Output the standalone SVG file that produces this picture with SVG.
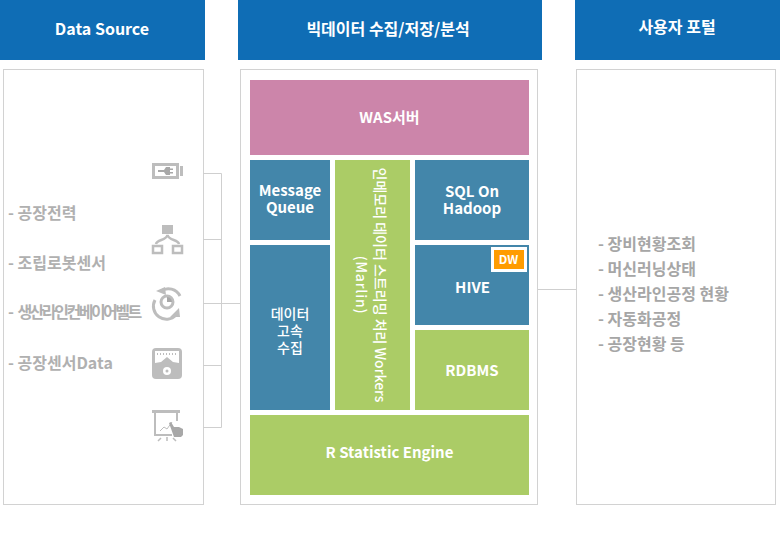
<svg xmlns="http://www.w3.org/2000/svg" width="780" height="533" viewBox="0 0 780 533">
<style>
text{font-family:"Noto Sans CJK KR","Noto Sans",sans-serif;font-weight:700;text-anchor:middle}
.hd{fill:#0f6db5}
.hdt{fill:#fff;font-size:16px}
.panel{fill:#fff;stroke:#d2d2d2;stroke-width:1}
.blue{fill:#4386aa}
.green{fill:#abcc66}
.w{fill:#fff;font-size:15px}
.l{fill:#b0b0b0;font-size:16px;text-anchor:start}
.r{fill:#a6a6a6;font-size:16px;text-anchor:start}
.line{fill:none;stroke:#cfcfcf;stroke-width:1}
.ic{fill:#bdbdbd}
.ics{fill:none;stroke:#bdbdbd}
</style>
<rect width="780" height="533" fill="#fff"/>
<g id="header-source"><rect class="hd" x="0" y="0" width="205" height="60"/><text class="hdt" x="102" y="35">Data Source</text></g>
<g id="header-bigdata"><rect class="hd" x="238" y="0" width="304" height="60"/><text class="hdt" x="388" y="35">빅데이터 수집/저장/분석</text></g>
<g id="header-portal"><rect class="hd" x="575" y="0" width="205" height="60"/><text class="hdt" x="677" y="33">사용자 포털</text></g>
<g id="panel-source"><rect class="panel" x="3.5" y="69.5" width="200" height="435"/>
<text class="l" x="8" y="219">- 공장전력</text>
<text class="l" x="8" y="269">- 조립로봇센서</text>
<text class="l" x="8" y="318">- <tspan letter-spacing="-2.500">생산라인컨베이어벨트</tspan></text>
<text class="l" x="8" y="369">- 공장센서Data</text>
</g>
<g id="panel-bigdata"><rect class="panel" x="240.5" y="69.5" width="297" height="435"/></g>
<g id="panel-portal"><rect class="panel" x="576.5" y="69.5" width="199" height="435"/>
<text class="r" x="598" y="250">- 장비현황조회</text>
<text class="r" x="598" y="275">- 머신러닝상태</text>
<text class="r" x="598" y="300">- 생산라인공정 현황</text>
<text class="r" x="598" y="325">- 자동화공정</text>
<text class="r" x="598" y="350">- 공장현황 등</text>
</g>
<g id="connectors">
<path class="line" d="M203 173.5H221.5V427.5H203M203 239.5H221.5M203 303.5H240M203 365.5H221.5M538 289.5H576"/>
</g>
<g id="icon-power">
<rect class="ics" x="153.500" y="164.500" width="24" height="13" stroke-width="3"/>
<rect class="ic" x="180" y="166" width="3" height="10"/>
<path fill="#a8a8a8" d="M158 170h6l2-3h4v1.500h3v1.500h-3v2h3v1.500h-3v1.500h-4l-2-3h-6z"/>
</g>
<g id="icon-hierarchy">
<rect class="ic" x="162" y="225" width="11" height="9"/>
<rect class="ics" x="153" y="246" width="9" height="7" stroke-width="2.500"/>
<rect class="ics" x="173" y="246" width="9" height="7" stroke-width="2.500"/>
<path class="ics" stroke-width="2.500" d="M156 244c1-5 10-3 11.500-9c1.500 6 10.500 4 11.500 9"/>
</g>
<g id="icon-cycle">
<path class="ics" stroke-width="3" d="M161 291a13 13 0 0 1 19 5M176 315a13 13 0 0 1-21-15"/>
<path class="ic" d="M156 291l9-4 1 8zM170 317l9-9 1 9z"/>
<circle class="ics" cx="167" cy="302" r="6" stroke-width="3"/>
<path fill="#a8a8a8" d="M167 297a5 5 0 0 1 5 5h-5z"/>
</g>
<g id="icon-gauge">
<rect class="ic" x="152" y="348" width="30" height="31" rx="4"/>
<path d="M155 351h24v12l-6-1-6-5-6 5-6 1z" fill="#fff"/>
<path class="ics" stroke-width="2" stroke-dasharray="1 2" d="M157 354h20"/>
<circle cx="167" cy="371" r="4" fill="#fff"/><circle class="ic" cx="167" cy="371" r="1.500"/>
</g>
<g id="icon-presentation">
<rect class="ic" x="152" y="410" width="28" height="3"/>
<path class="ics" stroke-width="2" d="M155 413v22h17M177 413v8"/>
<path class="ics" stroke-width="1" d="M160 431l4-4 3 2 5-7"/>
<path fill="#a8a8a8" d="M169 423l2-1 3 5 5 0 4 2v6l-2 2h-7z"/>
<path class="ics" stroke-width="1.500" d="M158 441l3-3M167 437v4M176 441l-3-3"/>
</g>
<g id="node-was"><rect x="250" y="80" width="279" height="75" fill="#cc85aa"/><text class="w" x="389.500" y="123">WAS서버</text></g>
<g id="node-mq"><rect class="blue" x="250" y="160" width="80" height="80"/><text class="w" x="290" y="196">Message<tspan x="290" dy="17">Queue</tspan></text></g>
<g id="node-inmem"><rect class="green" x="335" y="160" width="75" height="250"/>
<g transform="translate(372.500 285) rotate(90)"><text fill="#fff" x="0" y="-2" font-size="14" style="font-weight:500">인메모리 데이터 스트리밍 처리 Workers<tspan x="0" dy="19" letter-spacing="0.800">(Marlin)</tspan></text></g></g>
<g id="node-sql"><rect class="blue" x="415" y="160" width="114" height="80"/><text class="w" x="472" y="197">SQL On<tspan x="472" dy="17">Hadoop</tspan></text></g>
<g id="node-ingest"><rect class="blue" x="250" y="245" width="80" height="165"/><text class="w" x="290" y="319" style="font-size:14px;font-weight:500">데이터<tspan x="290" dy="17">고속</tspan><tspan x="290" dy="17">수집</tspan></text></g>
<g id="node-hive"><rect class="blue" x="415" y="245" width="114" height="80"/><text class="w" x="472.500" y="293">HIVE</text>
<rect x="491" y="247" width="36" height="25" fill="#fff"/><rect x="494" y="250" width="30" height="19" fill="#ff9c00"/><text x="508.500" y="264" fill="#fff" style="font-size:12px">DW</text></g>
<g id="node-rdbms"><rect class="green" x="415" y="330" width="114" height="80"/><text class="w" x="472" y="376">RDBMS</text></g>
<g id="node-r"><rect class="green" x="250" y="415" width="279" height="80"/><text class="w" x="389.500" y="458">R Statistic Engine</text></g>
</svg>
